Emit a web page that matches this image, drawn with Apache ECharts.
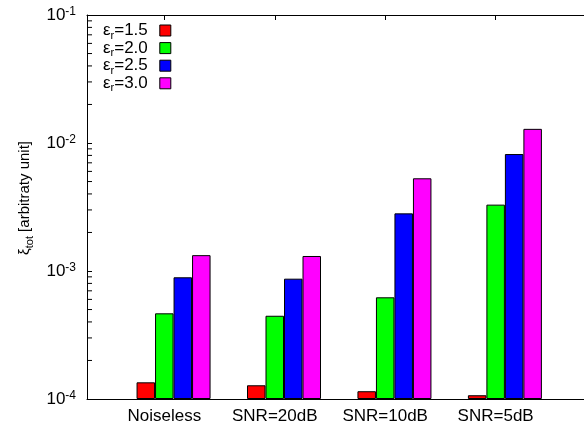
<!DOCTYPE html>
<html>
<head>
<meta charset="utf-8">
<script src="https://cdn.jsdelivr.net/npm/echarts@6/dist/echarts.min.js"></script>
<style>
html,body{margin:0;padding:0;background:#fff;}
#chart{width:584px;height:431px;}
</style>
</head>
<body>
<div id="chart"></div>
<script>
// ---- data ----
const categories = ['Noiseless', 'SNR=20dB', 'SNR=10dB', 'SNR=5dB'];
const epsLabels = ['1.5', '2.0', '2.5', '3.0'];
const eps15 = [1.35e-4, 1.28e-4, 1.15e-4, 1.07e-4];
const eps20 = [4.67e-4, 4.47e-4, 6.23e-4, 3.30e-3];
const eps25 = [8.93e-4, 8.71e-4, 2.82e-3, 8.20e-3];
const eps30 = [1.33e-3, 1.31e-3, 5.30e-3, 1.29e-2];
const minorTicks = [2e-4,3e-4,4e-4,5e-4,6e-4,7e-4,8e-4,9e-4,
                    2e-3,3e-3,4e-3,5e-3,6e-3,7e-3,8e-3,9e-3,
                    2e-2,3e-2,4e-2,5e-2,6e-2,7e-2,8e-2,9e-2];
const colors = ['#ff0000', '#00ff00', '#0000ff', '#ff00ff'];

const FONT = "'Liberation Sans', Arial, sans-serif";
const catIdx = categories.map((c, i) => i);
const seriesValues = [eps15, eps20, eps25, eps30];
const seriesNames = epsLabels.map(v => 'εr=' + v);
const XMIN = -0.7, XMAX = 3.8;

const chart = echarts.init(document.getElementById('chart'), null, {renderer: 'canvas'});

const barSeries = seriesValues.map((vals, s) => ({
  name: seriesNames[s],
  type: 'bar',
  barWidth: 18.5,
  barGap: '0%',
  itemStyle: {color: colors[s], borderColor: '#000000', borderWidth: 1, borderType: 'solid', opacity: 1},
  data: vals.map((v, i) => [catIdx[i], v]),
  z: 3
}));

// empty spacer column (gnuplot cluster offset)
const spacer = {
  name: '_spacer',
  type: 'bar',
  barWidth: 18.5,
  barGap: '0%',
  data: catIdx.map(i => [i, '-']),
  z: 3
};

const minorSeries = {
  type: 'custom',
  name: '_minor',
  silent: true,
  z: 5,
  data: minorTicks.map(v => [XMIN, v]),
  renderItem: function (params, api) {
    const p = api.coord([api.value(0), api.value(1)]);
    return {
      type: 'line',
      shape: {x1: p[0], y1: p[1], x2: p[0] + 5, y2: p[1]},
      style: {stroke: '#000', lineWidth: 1}
    };
  }
};

const option = {
  animation: false,
  backgroundColor: '#fff',
  textStyle: {fontFamily: FONT},
  grid: {left: 87, right: -3, top: 15, bottom: 32, containLabel: false},
  legend: {
    data: seriesNames,
    orient: 'vertical',
    left: 98,
    top: 15,
    align: 'right',
    itemWidth: 11,
    itemHeight: 11,
    itemGap: -3.4,
    icon: 'rect',
    itemStyle: {borderColor: '#000000', borderWidth: 1},
    formatter: function (name) {
      return '{a|ε}{b|r}{c|' + name.slice(2) + '}';
    },
    textStyle: {
      fontFamily: FONT,
      color: '#000',
      lineHeight: 14,
      rich: {
        a: {fontSize: 17, fontFamily: FONT, color: '#000', lineHeight: 14},
        b: {fontSize: 11, fontFamily: FONT, color: '#000', lineHeight: 4, padding: [10, 0, 0, 0]},
        c: {fontSize: 17, fontFamily: FONT, color: '#000', lineHeight: 14, padding: [0, 7, 0, 0]}
      }
    }
  },
  xAxis: [{
    type: 'value',
    min: XMIN,
    max: XMAX,
    position: 'bottom',
    splitLine: {show: false},
    axisLine: {show: true, onZero: false, lineStyle: {color: '#000', width: 1}},
    axisTick: {show: true, inside: true, length: 5, customValues: catIdx, lineStyle: {color: '#000'}},
    axisLabel: {
      show: true,
      customValues: catIdx,
      formatter: function (v) { return categories[Math.round(v)] || ''; },
      fontSize: 17, fontFamily: FONT, color: '#000', margin: 9
    }
  }, {
    type: 'value',
    min: XMIN,
    max: XMAX,
    position: 'top',
    splitLine: {show: false},
    axisLine: {show: true, onZero: false, lineStyle: {color: '#000', width: 1}},
    axisTick: {show: true, inside: true, length: 5, customValues: catIdx, lineStyle: {color: '#000'}},
    axisLabel: {show: false}
  }],
  yAxis: {
    type: 'log',
    logBase: 10,
    min: 1e-4,
    max: 1e-1,
    startValue: 1e-4,
    name: '{a|ξ}{s|tot}{a| [arbitraty unit]}',
    nameLocation: 'middle',
    nameGap: 50,
    nameTextStyle: {
      padding: [0, 0, 0, 18],
      lineHeight: 16,
      rich: {
        a: {fontSize: 15, fontFamily: FONT, color: '#000', lineHeight: 16},
        s: {fontSize: 11, fontFamily: FONT, color: '#000', lineHeight: 6, padding: [10, 0, 0, 0]}
      }
    },
    splitLine: {show: false},
    axisLine: {show: true, onZero: false, lineStyle: {color: '#000', width: 1}},
    axisTick: {show: true, inside: true, length: 5, lineStyle: {color: '#000'}},
    axisLabel: {
      margin: 11,
      formatter: function (v) {
        const e = Math.round(Math.log10(v));
        return '{b|10}{s|' + e + '}';
      },
      rich: {
        b: {fontSize: 17, fontFamily: FONT, color: '#000', lineHeight: 18},
        s: {fontSize: 12, fontFamily: FONT, color: '#000', lineHeight: 4, verticalAlign: 'top'}
      }
    }
  },
  series: [spacer].concat(barSeries).concat([minorSeries])
};

chart.setOption(option);
</script>
</body>
</html>
